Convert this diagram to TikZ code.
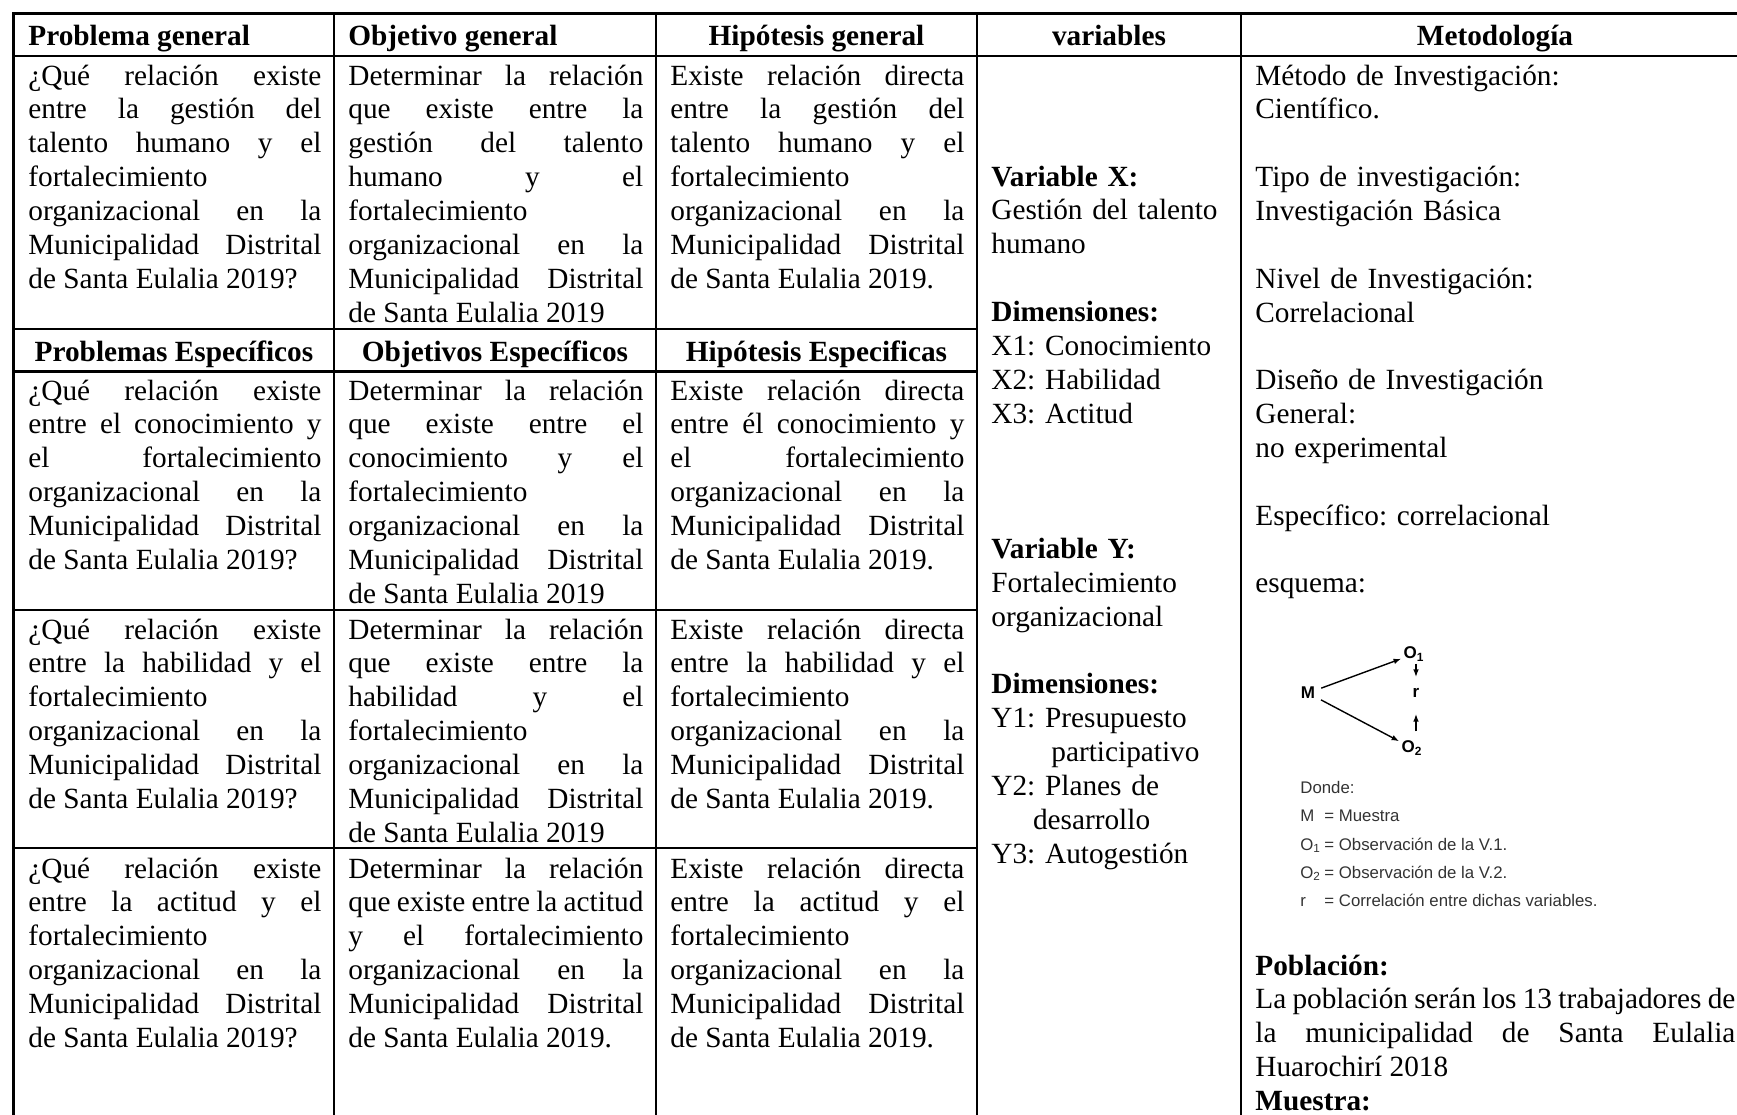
\documentclass[tikz,border=0pt]{standalone}
\usepackage{fontspec}
\setmainfont{Liberation Serif}
\setsansfont{Liberation Sans}
\usetikzlibrary{arrows.meta}

\newcommand{\letra}{\fontsize{14.65pt}{16.93pt}\selectfont\frenchspacing\hyphenpenalty=10000\tolerance=10000}
\newcommand{\letraesq}{\sffamily\fontsize{8.4pt}{10pt}\selectfont}

\tikzset{
  rejilla/.style={line width=1.1pt, line cap=rect},
  cabeza/.style={anchor=base west, inner sep=0pt, font=\letra\bfseries},
  titulo/.style={anchor=base, inner sep=0pt, font=\letra\bfseries},
  celda/.style={anchor=base west, inner sep=0pt, align=justify, font=\letra},
  lista/.style={anchor=base west, inner sep=0pt, align=left, font=\letra},
  esq/.style={inner sep=1pt, font=\sffamily\bfseries\fontsize{8.5pt}{9pt}\selectfont},
  donde/.style={anchor=base west, inner sep=0pt, font=\letraesq, text=black!80},
  flecha/.style={-{Latex[length=3.8pt,width=2.8pt]}, line width=0.7pt}
}

\begin{document}
\begin{tikzpicture}[x=0.5pt, y=-0.5pt]
    \useasboundingbox (0,0) rectangle (1737,1115);
    \draw[rejilla] (13.5,13.5) -- (1737,13.5);
    \draw[rejilla] (13.5,56) -- (1737,56);
    \draw[rejilla] (13.5,13.5) -- (13.5,1115);
    \foreach \x in {334,656,977,1241}
        \draw[rejilla] (\x,13.5) -- (\x,1115);
    \foreach \y in {329,371.5,610,848}
        \draw[rejilla] (13.5,\y) -- (977,\y);

    \node[cabeza] (hprob) at (28,45) {Problema general};
    \node[cabeza] (hobj) at (348,45) {Objetivo general};
    \node[titulo] (hhip) at (816.5,45) {Hipótesis general};
    \node[titulo] (hvar) at (1109,45) {variables};
    \node[titulo] (hmet) at (1495,45) {Metodología};

    \node[celda, text width=146.5pt] (prob0) at (28,85) {¿Qué relación existe\linebreak entre la gestión del\linebreak talento humano y el\linebreak fortalecimiento\linebreak organizacional en la\linebreak Municipalidad Distrital\linebreak de Santa Eulalia 2019?};
    \node[celda, text width=147.5pt] (obj0) at (348,85) {Determinar la relación\linebreak que existe entre la\linebreak gestión del talento\linebreak humano y el\linebreak fortalecimiento\linebreak organizacional en la\linebreak Municipalidad Distrital\linebreak de Santa Eulalia 2019};
    \node[celda, text width=147pt] (hip0) at (670,85) {Existe relación directa\linebreak entre la gestión del\linebreak talento humano y el\linebreak fortalecimiento\linebreak organizacional en la\linebreak Municipalidad Distrital\linebreak de Santa Eulalia 2019.};

    \node[titulo] (hprobe) at (174,361.5) {Problemas Específicos};
    \node[titulo] (hobje) at (495,361.5) {Objetivos Específicos};
    \node[titulo] (hhipe) at (816.5,361.5) {Hipótesis Especificas};

    \node[celda, text width=146.5pt] (prob1) at (28,400) {¿Qué relación existe\linebreak entre el conocimiento y\linebreak el fortalecimiento\linebreak organizacional en la\linebreak Municipalidad Distrital\linebreak de Santa Eulalia 2019?};
    \node[celda, text width=147.5pt] (obj1) at (348,400) {Determinar la relación\linebreak que existe entre el\linebreak conocimiento y el\linebreak fortalecimiento\linebreak organizacional en la\linebreak Municipalidad Distrital\linebreak de Santa Eulalia 2019};
    \node[celda, text width=147pt] (hip1) at (670,400) {Existe relación directa\linebreak entre él conocimiento y\linebreak el fortalecimiento\linebreak organizacional en la\linebreak Municipalidad Distrital\linebreak de Santa Eulalia 2019.};

    \node[celda, text width=146.5pt] (prob2) at (28,639) {¿Qué relación existe\linebreak entre la habilidad y el\linebreak fortalecimiento\linebreak organizacional en la\linebreak Municipalidad Distrital\linebreak de Santa Eulalia 2019?};
    \node[celda, text width=147.5pt] (obj2) at (348,639) {Determinar la relación\linebreak que existe entre la\linebreak habilidad y el\linebreak fortalecimiento\linebreak organizacional en la\linebreak Municipalidad Distrital\linebreak de Santa Eulalia 2019};
    \node[celda, text width=147pt] (hip2) at (670,639) {Existe relación directa\linebreak entre la habilidad y el\linebreak fortalecimiento\linebreak organizacional en la\linebreak Municipalidad Distrital\linebreak de Santa Eulalia 2019.};

    \node[celda, text width=146.5pt] (prob3) at (28,878) {¿Qué relación existe\linebreak entre la actitud y el\linebreak fortalecimiento\linebreak organizacional en la\linebreak Municipalidad Distrital\linebreak de Santa Eulalia 2019?};
    \node[celda, text width=147.5pt] (obj3) at (348,878) {Determinar la relación\linebreak que existe entre la actitud\linebreak y el fortalecimiento\linebreak organizacional en la\linebreak Municipalidad Distrital\linebreak de Santa Eulalia 2019.};
    \node[celda, text width=147pt] (hip3) at (670,878) {Existe relación directa\linebreak entre la actitud y el\linebreak fortalecimiento\linebreak organizacional en la\linebreak Municipalidad Distrital\linebreak de Santa Eulalia 2019.};

    \node[lista, text width=119pt] (vars) at (991,186) {\textbf{Variable X:}\\ Gestión del talento\\ humano\\[16.93pt] \textbf{Dimensiones:}\\ X1: Conocimiento\\ X2: Habilidad\\ X3: Actitud\\[50.79pt] \textbf{Variable Y:}\\ Fortalecimiento\\ organizacional\\[16.93pt] \textbf{Dimensiones:}\\ Y1: Presupuesto\\ \hspace*{30pt}participativo\\ Y2: Planes de\\ \hspace*{20.8pt}desarrollo\\ Y3: Autogestión};

    \node[lista, text width=240pt] (metodo) at (1255,85) {Método de Investigación:\\ Científico.\\[16.93pt] Tipo de investigación:\\ Investigación Básica\\[16.93pt] Nivel de Investigación:\\ Correlacional\\[16.93pt] Diseño de Investigación\\ General:\\ no experimental\\[16.93pt] Específico: correlacional\\[16.93pt] esquema:};

    \node[esq] (M) at (1308,693) {M};
    \node[esq] (O1) at (1414,654) {O\textsubscript{1}};
    \node[esq] (r) at (1416,693) {r};
    \node[esq] (O2) at (1412,748) {O\textsubscript{2}};
    \draw[flecha, shorten <=2pt] (M) -- (O1);
    \draw[flecha, shorten <=2pt] (M) -- (O2);
    \draw[flecha, shorten >=4.5pt] (r |- O1.south) -- (r.north);
    \draw[flecha, shorten <=3.5pt, shorten >=7pt] (r |- O2.north) -- (r.south);

    \node[donde] (d0) at (1300,793) {Donde:};
    \node[donde] (d1) at (1300,821) {\makebox[12pt][l]{M}= Muestra};
    \node[donde] (d2) at (1300,850) {\makebox[12pt][l]{O\textsubscript{1}}= Observación de la V.1.};
    \node[donde] (d3) at (1300,878) {\makebox[12pt][l]{O\textsubscript{2}}= Observación de la V.2.};
    \node[donde] (d4) at (1300,906) {\makebox[12pt][l]{r}= Correlación entre dichas variables.};

    \node[celda, text width=240pt] (pobla) at (1255,975) {\textbf{Población:}\newline La población serán los 13 trabajadores de\linebreak la municipalidad de Santa Eulalia\linebreak Huarochirí 2018\newline \textbf{Muestra:}};
\end{tikzpicture}
\end{document}
